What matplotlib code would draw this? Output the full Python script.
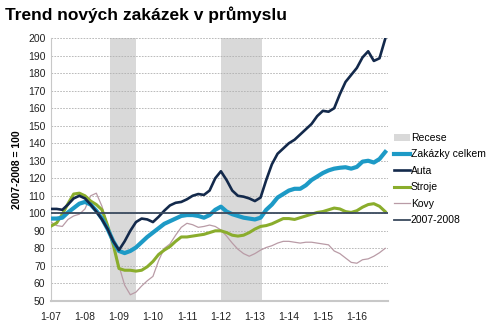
#! /usr/bin/env python

import numpy as np
import matplotlib
matplotlib.use('Agg')
import matplotlib.pyplot as plt
from matplotlib.patches import Patch

plt.rcParams['font.family'] = ['Liberation Sans', 'DejaVu Sans']

# months since 1/2007, every second month
months = np.arange(0, 120, 2)
year_ticks = np.arange(0, 120, 12)
year_labels = ['1-07', '1-08', '1-09', '1-10', '1-11', '1-12', '1-13', '1-14', '1-15', '1-16']

zakazky = [97, 97, 97.5, 100.5, 103, 105.5, 106.5, 105, 101.5, 97, 91, 84,
           78.5, 77.3, 78.5, 80.5, 83.5, 86.5, 89, 91.5, 94, 95.5, 97, 98.5,
           99, 99, 98.5, 97.5, 99, 102, 103.8, 101, 99.5, 98.5, 97.5, 97,
           96.5, 97.5, 102, 105, 109, 111, 113, 114, 114, 116, 119, 121,
           123, 124.5, 125.5, 126, 126.3, 125.5, 126.5, 129.5, 130, 129, 131, 135]
auta = [102.5, 102.5, 102, 105, 108.5, 110, 108.5, 105, 101, 96.5, 91, 84,
        79, 84, 90, 95, 97, 96.5, 95, 98, 101.5, 104.5, 106, 106.5,
        108, 110, 111, 110.5, 113, 120, 124, 119, 113, 110, 109.5, 108.5,
        107, 109, 119, 128, 134, 137, 140, 142, 145, 148, 151, 155.5,
        158.5, 158, 160, 168, 175, 179, 183, 189, 192.5, 187, 188.5, 199.5]
stroje = [92.7, 94.5, 99.5, 105.5, 111, 111.5, 110, 107, 105, 102, 93, 82,
          68.5, 67.5, 67.5, 67, 67.5, 69.5, 72.5, 76.5, 79, 81, 84, 86.5,
          86.5, 87, 87.5, 88, 89, 90, 90, 89, 87.5, 87, 87.5, 89,
          91, 92.5, 93, 94, 95.5, 97, 97, 96.5, 97.5, 98.5, 99.5, 100.5,
          101, 102, 103, 102.5, 101, 100.5, 101.5, 103.5, 105, 105.5, 104, 101]
kovy = [95, 93, 92.5, 96.5, 98.5, 99.5, 102.5, 110, 111.5, 104, 93, 83,
        70, 59, 53.5, 55, 58.5, 61.5, 64, 73, 80, 82.5, 87.5, 92,
        94.3, 93.5, 92, 92.5, 93.3, 92.5, 90.5, 87, 83, 79.5, 77, 75.5,
        77, 79, 80.5, 81.5, 83, 84, 84, 83.5, 83, 83.5, 83.5, 83,
        82.5, 82, 78.5, 77, 74.5, 72, 71.5, 73.5, 74, 75.5, 77.5, 80]
baseline = 100
recese = [(21, 30), (60, 74.5)]

fig = plt.figure(figsize=(5, 3.26), dpi=100)
ax = fig.add_axes([0.102, 0.077, 0.674, 0.806])

for start, end in recese:
    ax.axvspan(start, end, color='#d9d9d9', lw=0, zorder=0)

ax.plot(months, kovy, color='#b99ba6', lw=0.9, zorder=3)
ax.plot(months, stroje, color='#8aad2c', lw=2.2, zorder=4)
ax.plot(months, zakazky, color='#1d9ac6', lw=3.0, zorder=5)
ax.plot(months, auta, color='#13294b', lw=1.9, zorder=6)
ax.axhline(baseline, color='#3a4a5e', lw=1.3, zorder=7)

ax.set_xlim(0, 119)
ax.set_ylim(50, 200)
ax.set_yticks(np.arange(50, 201, 10))
ax.set_xticks(year_ticks)
ax.set_xticklabels(year_labels)
ax.tick_params(axis='both', length=0, labelsize=7.5, colors='#222222')
ax.tick_params(axis='x', pad=8)
ax.tick_params(axis='y', pad=4)
ax.grid(axis='y', color='#b0b0b0', linestyle=(0, (2, 1.5)), lw=0.6)
ax.set_axisbelow(True)
for side in ['top', 'right']:
    ax.spines[side].set_visible(False)
ax.spines['left'].set_color('#c8c8c8')
ax.spines['bottom'].set_color('#c8c8c8')
ax.spines['bottom'].set_linewidth(1.5)

ax.set_ylabel('2007-2008 = 100', fontsize=7.5, fontweight='bold', labelpad=4)

fig.text(0.01, 0.955, 'Trend nových zakázek v průmyslu', fontsize=12.5,
         fontweight='bold', va='center', ha='left')

handles = [Patch(facecolor='#d9d9d9', edgecolor='none'),
           plt.Line2D([], [], color='#1d9ac6', lw=3.0),
           plt.Line2D([], [], color='#13294b', lw=1.9),
           plt.Line2D([], [], color='#8aad2c', lw=2.2),
           plt.Line2D([], [], color='#b99ba6', lw=0.9),
           plt.Line2D([], [], color='#3a4a5e', lw=1.3)]
labels = ['Recese', 'Zakázky celkem', 'Auta', 'Stroje', 'Kovy', '2007-2008']
fig.legend(handles, labels, loc='upper left', bbox_to_anchor=(0.78, 0.605),
           frameon=False, fontsize=7.5, handlelength=1.5, handletextpad=0.1,
           labelspacing=0.62, borderaxespad=0)

fig.savefig('out.png', dpi=100)
